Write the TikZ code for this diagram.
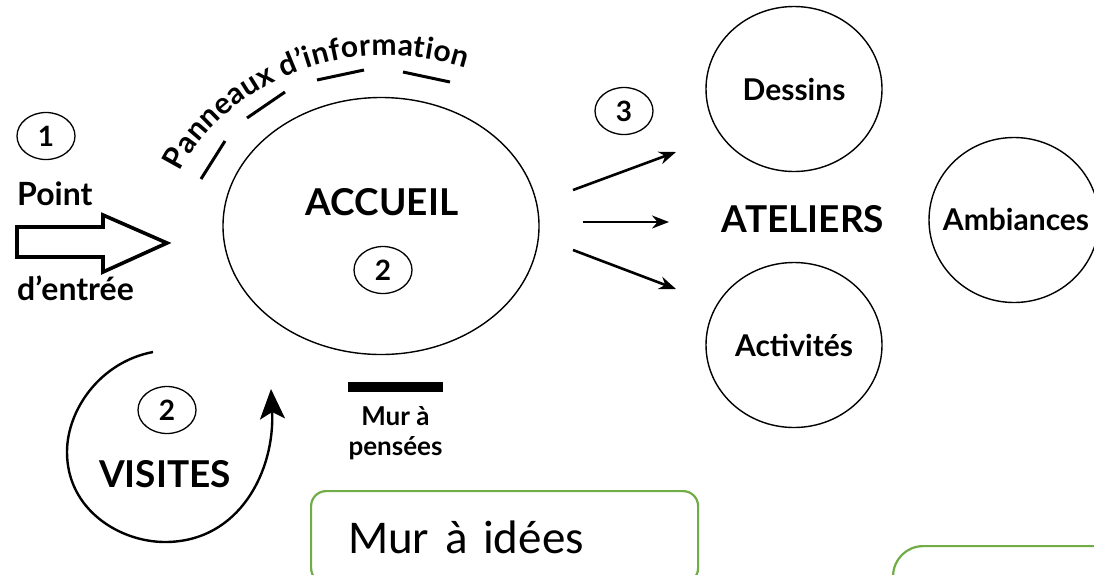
\documentclass[tikz,border=0pt]{standalone}
\usepackage{fontspec}
\setmainfont{Lato}
\newfontfamily\officefont{Carlito}
\usepackage{tikz}
\usetikzlibrary{arrows.meta,shapes.geometric,decorations.text,positioning}
\definecolor{ideagreen}{RGB}{112,173,71}
\tikzstyle{arrow} = [line width=2.6pt,-{Stealth[length=17pt,width=13pt]}]
\tikzstyle{bubble} = [ellipse, draw, line width=1.4pt, inner sep=0pt, minimum width=176pt, minimum height=165pt]
\tikzstyle{bubbletxt} = [inner sep=0pt, font=\bfseries\fontsize{30}{30}\selectfont]
\tikzstyle{numtag} = [ellipse, draw, line width=1.3pt, inner sep=0pt, minimum width=58pt, minimum height=47pt, font=\bfseries\fontsize{28}{28}\selectfont]
\tikzstyle{heading} = [inner sep=0pt, anchor=base, font=\bfseries\fontsize{37}{37}\selectfont]
\tikzstyle{legend} = [inner sep=0pt, anchor=base west, font=\bfseries\fontsize{32}{32}\selectfont]
\tikzstyle{panel} = [line width=3pt]
\tikzstyle{ideabox} = [rectangle, rounded corners=15pt, draw=ideagreen, line width=2.2pt, anchor=north west]

\begin{document}
\begin{tikzpicture}[x=1pt,y=-1pt]
\useasboundingbox (0,0) rectangle (1094,574);
\clip (0,0) rectangle (1094,574);

% Entry point
\node (n1) [numtag] at (46,136) {1};
\node (point) [legend] at (17,205) {Point};
\node (entree) [legend] at (17,300) {d'entrée};
\draw[line width=3.6pt, line join=miter] (17,227) -- (103,227) -- (103,215) -- (167,243)
  -- (103,272) -- (103,257) -- (17,257) -- cycle;

% Welcome area
\node (accueil) [ellipse, draw, line width=1.4pt, minimum width=316pt, minimum height=257pt] at (381,226) {};
\node (accueiltxt) [heading] at (382,215) {ACCUEIL};
\node (n2) [numtag] at (383,270) {2};

% Information panels
\draw[panel] (201,179) -- (225,141);
\draw[panel] (247,118) -- (285,92);
\draw[panel] (317,80) -- (364,70);
\draw[panel] (403,72) -- (450,82);
\path[decorate, decoration={text along path, text align=fit to path,
  text={|\bfseries\fontsize{30}{30}\selectfont|Panneaux d'information}}]
  (180,172) .. controls (212,104) and (325,24) .. (466,68);

% Thought wall
\node (murbar) [fill, inner sep=0pt, minimum width=95pt, minimum height=10pt] at (395.5,387) {};
\node (pensees) [below=14pt of murbar, inner sep=0pt, align=center,
  font=\bfseries\fontsize{26}{30}\selectfont] {Mur à\\pensées};

% Visits
\node (n2b) [numtag] at (167,410) {2};
\node (visites) [heading] at (165,487) {VISITES};
\coordinate (vstart) at (153,352);
\coordinate (vend) at (271,389);
\draw[line width=2.4pt, -{Stealth[length=30pt,width=25pt,inset=7pt]}] (vstart)
  .. controls (100,362) and (67,410) .. (67,452)
  .. controls (67,510) and (120,542) .. (165,542)
  .. controls (240,542) and (275,470) .. (vend);

% Workshops
\node (n3) [numtag] at (624,111) {3};
\node (dessins) [bubble] at (794,89) {};
\node (dessinstxt) [bubbletxt] at (dessins) {Dessins};
\node (activites) [bubble] at (794,345) {};
\node (activitestxt) [bubbletxt] at (activites) {Activités};
\node (ambiances) [bubble, minimum width=170pt] at (1014,220) {};
\node (ambiancestxt) [bubbletxt] at (1016,219) {Ambiances};
\node (ateliers) [heading] at (803,232) {ATELIERS};

% Arrows
\coordinate (a1) at (573,190);
\coordinate (b1) at (676,152);
\coordinate (a2) at (583,222);
\coordinate (b2) at (669,222);
\coordinate (a3) at (573,250);
\coordinate (b3) at (676,289);
\draw[arrow] (a1) -- (b1);
\draw[arrow] (a2) -- (b2);
\draw[arrow] (a3) -- (b3);

% Idea boxes
\node (idees) [ideabox, minimum width=387pt, minimum height=92pt, text width=313pt,
  inner xsep=37pt, align=left, font=\officefont\fontsize{47}{47}\selectfont] at (310,490) {Mur à idées};
\node (vide) [ideabox, rounded corners=30pt, minimum width=300pt, minimum height=100pt] at (892,545) {};
\end{tikzpicture}
\end{document}
